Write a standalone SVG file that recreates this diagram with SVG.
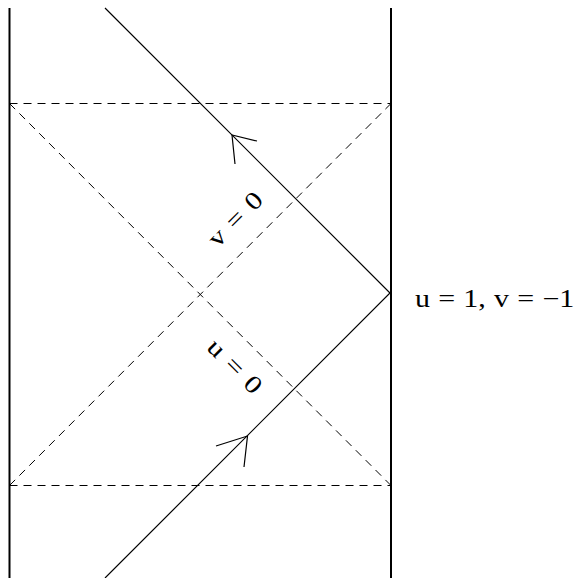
<svg xmlns="http://www.w3.org/2000/svg" width="577" height="578" viewBox="0 0 577 578">
<style>
.wall{stroke:#000;stroke-width:2;fill:none}
.dash{stroke:#000;stroke-width:1;stroke-dasharray:8 6;fill:none}
.ray{stroke:#000;stroke-width:1.2;fill:none}
.lbl{font-family:"Liberation Serif","Times New Roman",serif;font-size:25px;fill:#000;word-spacing:0.6px}
.rot{word-spacing:2px}
</style>
<rect width="577" height="578" fill="#fff"/>
<g id="connectors">
<line class="wall" x1="9.5" y1="8" x2="9.5" y2="578"/>
<line class="wall" x1="391" y1="8" x2="391" y2="578"/>
<line class="dash" x1="9.5" y1="103.5" x2="391" y2="103.5"/>
<line class="dash" x1="9.5" y1="485.5" x2="391" y2="485.5"/>
<line class="dash" x1="9.5" y1="103.5" x2="391" y2="485.5"/>
<line class="dash" x1="9.5" y1="485.5" x2="391" y2="103.5"/>
<polyline class="ray" points="105,8 390,293 105,578"/>
<polyline class="ray" points="257,141 232,135 235,164"/>
<polyline class="ray" points="216,446 247.5,436 244,467"/>
</g>
<g id="label-v0"><text class="lbl rot" text-anchor="middle" transform="translate(241,225) rotate(-45) scale(1.2,1)">v = 0</text></g>
<g id="label-u0"><text class="lbl rot" text-anchor="middle" transform="translate(229,372) rotate(45) scale(1.2,1)">u = 0</text></g>
<g id="label-corner"><text class="lbl" transform="translate(415,307) scale(1.2,1)">u = 1, v = −1</text></g>
</svg>
